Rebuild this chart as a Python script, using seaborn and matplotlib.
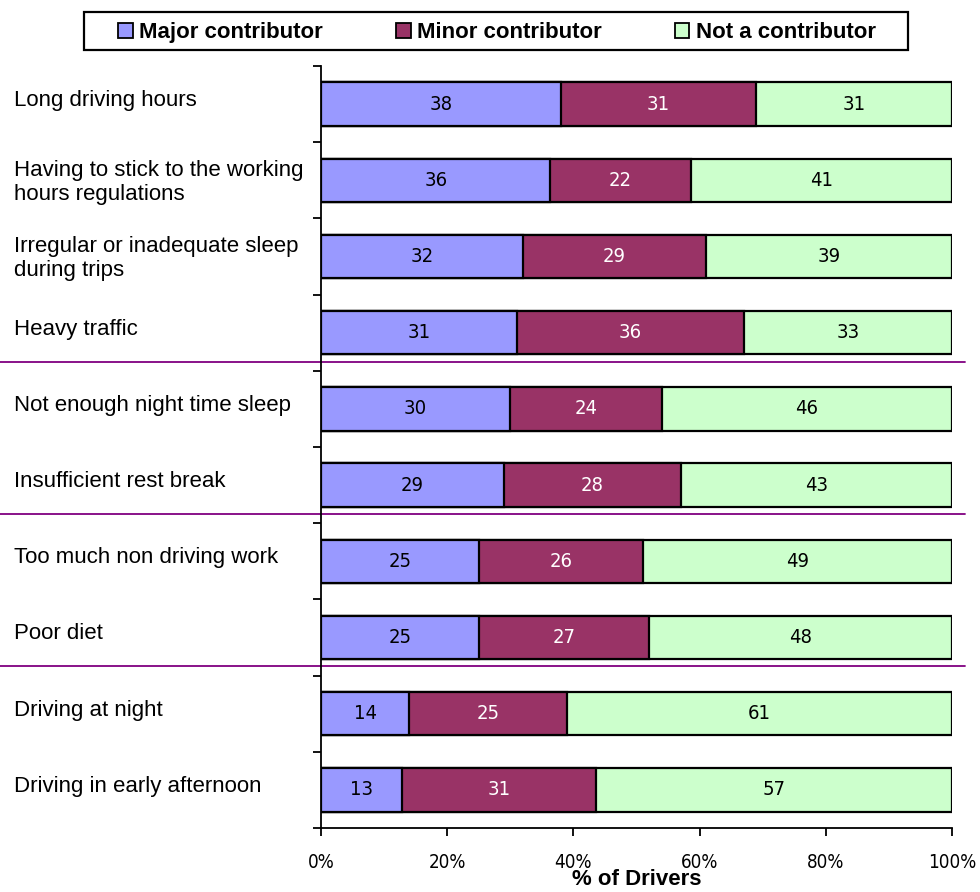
import numpy as np
import pandas as pd
import matplotlib
matplotlib.use("Agg")
import matplotlib.pyplot as plt
from matplotlib.patches import Patch, Rectangle
from matplotlib.ticker import FixedLocator, PercentFormatter
import matplotlib.transforms as mtransforms
import seaborn as sns

# ---- data -------------------------------------------------------------
categories = [
    "Long driving hours",
    "Having to stick to the working\nhours regulations",
    "Irregular or inadequate sleep\nduring trips",
    "Heavy traffic",
    "Not enough night time sleep",
    "Insufficient rest break",
    "Too much non driving work",
    "Poor diet",
    "Driving at night",
    "Driving in early afternoon",
]
major = [38, 36, 32, 31, 30, 29, 25, 25, 14, 13]
minor = [31, 22, 29, 36, 24, 28, 26, 27, 25, 31]
not_contrib = [31, 41, 39, 33, 46, 43, 49, 48, 61, 57]
series_names = ["Major contributor", "Minor contributor", "Not a contributor"]
x_ticks = [0, 20, 40, 60, 80, 100]
x_label = "% of Drivers"
group_breaks = [3.5, 5.5, 7.5]

colors = ["#9999FF", "#993366", "#CCFFCC"]
label_colors = ["black", "white", "black"]

sns.set_theme(style="white")
plt.rcParams["font.family"] = ["Liberation Sans", "DejaVu Sans"]
plt.rcParams["text.color"] = "black"
plt.rcParams["axes.labelcolor"] = "black"
plt.rcParams["xtick.color"] = "black"
plt.rcParams["ytick.color"] = "black"
plt.rcParams["legend.labelcolor"] = "black"
num_font = dict(family="DejaVu Sans", stretch="condensed")

df = pd.DataFrame({"cat": categories, "major": major, "minor": minor, "not": not_contrib})
total = df[["major", "minor", "not"]].sum(axis=1)
# shares scaled so every bar spans 100 %
share = df[["major", "minor", "not"]].div(total, axis=0) * 100
cum = share.cumsum(axis=1)

fig = plt.figure(figsize=(9.8, 8.92), dpi=100)
ax = fig.add_axes([321 / 980, 1 - 828 / 892, 631 / 980, 762 / 892])

bar_h = 0.57
# draw cumulative stacks from the widest to the narrowest
for col, c in zip(["not", "minor", "major"], colors[::-1]):
    sns.barplot(x=cum[col].values, y=df["cat"], color=c, orient="h", width=bar_h,
                edgecolor="black", linewidth=1.6, saturation=1, ax=ax)

# value labels centred in each segment
ys = np.arange(len(categories))
for j, col in enumerate(["major", "minor", "not"]):
    left = cum[col] - share[col]
    for i in range(len(categories)):
        ax.text(left[i] + share[col][i] / 2, ys[i], str(df[col][i]),
                ha="center", va="center", fontsize=14.5, color=label_colors[j],
                **num_font)

ax.set_xlim(0, 100)
ax.set_ylim(len(categories) - 0.5, -0.5)

# axes styling
for s in ["top", "right"]:
    ax.spines[s].set_visible(False)
for s in ["left", "bottom"]:
    ax.spines[s].set_color("black")
    ax.spines[s].set_linewidth(1.3)

ax.xaxis.set_major_locator(FixedLocator(x_ticks))
ax.xaxis.set_major_formatter(PercentFormatter(decimals=0))
ax.tick_params(axis="x", which="major", direction="out", length=6, width=1.3,
               color="black", labelcolor="black", bottom=True, pad=12)
for lbl in ax.get_xticklabels():
    lbl.set_family(num_font["family"])
    lbl.set_stretch(num_font["stretch"])
    lbl.set_fontsize(13.5)
ax.set_xlabel(x_label, fontsize=16, fontweight="bold", labelpad=-2, color="black")

# category names, left-aligned at the figure edge
ax.yaxis.set_minor_locator(FixedLocator(np.arange(-0.5, len(categories), 1.0)))
ax.tick_params(axis="y", which="minor", direction="out", length=6, width=1.3,
               color="black", left=True)
ax.tick_params(axis="y", which="major", length=0)
ax.set_yticklabels([])
ax.set_ylabel("")
name_trans = mtransforms.blended_transform_factory(fig.transFigure, ax.transData)
for i, name in enumerate(categories):
    dy = -0.02 if "\n" in name else 0.035
    t = name_trans + mtransforms.ScaledTranslation(0, dy, fig.dpi_scale_trans)
    ax.text(14 / 980, ys[i], name, transform=t, ha="left", va="center",
            fontsize=16, linespacing=1.2, color="black")

# separator lines between groups of factors
for b in group_breaks:
    ax.plot([0, 965 / 980], [b - 0.12, b - 0.12], color="#800080", linewidth=1.3,
            transform=name_trans, clip_on=False)

# legend across the top, framed by a plain box
fig.patches.append(Rectangle((84 / 980, 1 - 50 / 892), 824 / 980, 38 / 892,
                             transform=fig.transFigure, facecolor="white",
                             edgecolor="black", linewidth=1.6, zorder=0))
handles = [Patch(facecolor=c, edgecolor="black", linewidth=1.3) for c in colors]
leg = fig.legend(handles, series_names, ncol=3, loc="center left",
                 bbox_to_anchor=(118 / 980, 1 - 32.5 / 892, 758 / 980, 0),
                 mode="expand", frameon=False, borderpad=0,
                 handlelength=0.66, handleheight=0.66, handletextpad=0.3,
                 prop={"weight": "bold", "size": 16}, borderaxespad=0)

fig.savefig("out.png", dpi=100)
